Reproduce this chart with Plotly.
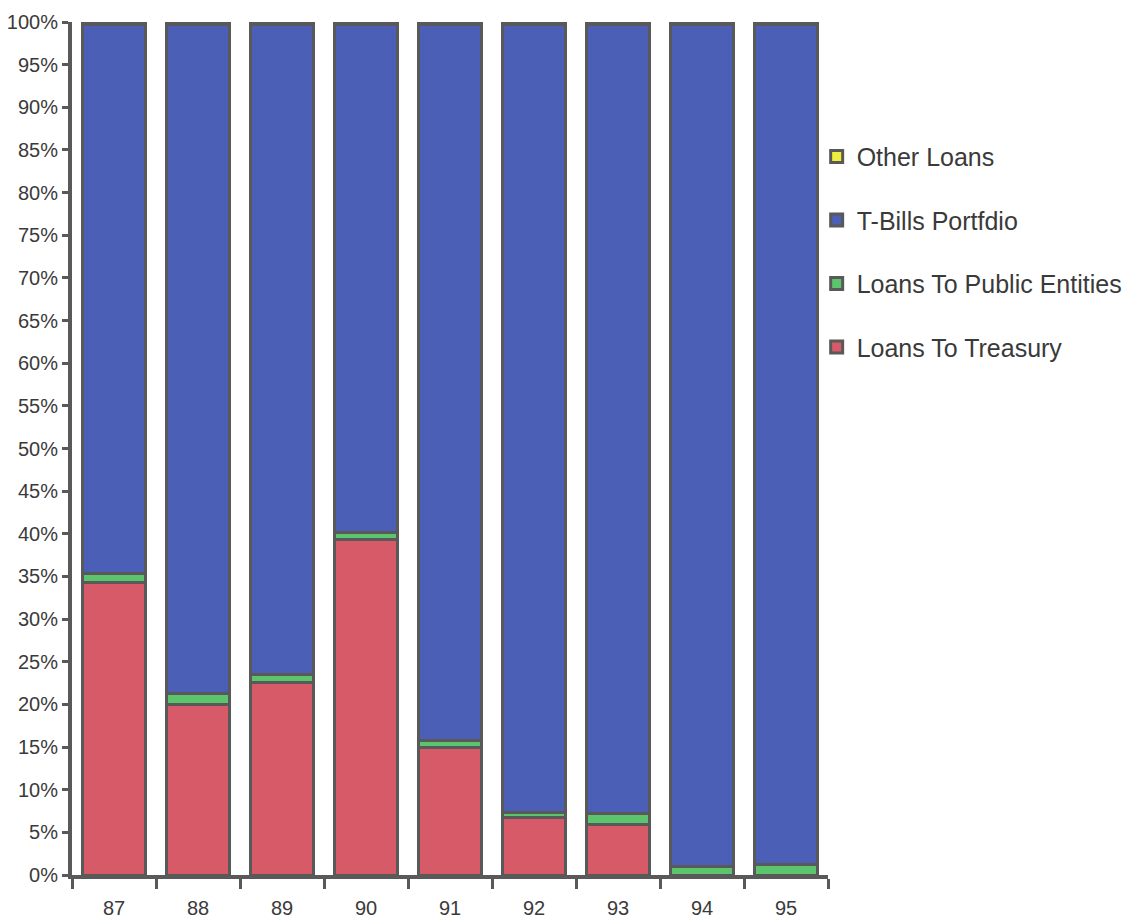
import plotly.graph_objects as go

years = ["87", "88", "89", "90", "91", "92", "93", "94", "95"]

loans_to_treasury = [34.3, 20.0, 22.6, 39.3, 15.0, 6.8, 5.9, 0.0, 0.0]
loans_to_public_entities = [1.0, 1.3, 0.9, 0.8, 0.8, 0.5, 1.3, 1.0, 1.2]
other_loans = [0.3, 0.3, 0.3, 0.3, 0.3, 0.3, 0.3, 0.3, 0.3]
t_bills_portfolio = [round(100 - a - b - c, 1) for a, b, c in
                     zip(loans_to_treasury, loans_to_public_entities, other_loans)]

y_ticks = list(range(0, 101, 5))
y_tick_labels = [f"{v}%" for v in y_ticks]

outline = "#595959"
# (name, values, fill colour, legend position from the top)
series = [
    ("Loans To Treasury", loans_to_treasury, "#d75a68", 4),
    ("Loans To Public Entities", loans_to_public_entities, "#5cc46c", 3),
    ("T-Bills Portfdio", t_bills_portfolio, "#4b5fb6", 2),
    ("Other Loans", other_loans, "#eeee3c", 1),
]

fig = go.Figure()
for i, (name, vals, color, rank) in enumerate(series):
    fig.add_trace(go.Bar(
        x=years, y=vals, name=name, legendgroup=f"g{i}", legendrank=rank,
        marker=dict(color=color, line=dict(color=outline, width=3)),
        width=0.74,
    ))

fig.update_layout(
    barmode="stack",
    width=1142, height=919,
    margin=dict(l=72, r=314, t=22, b=44, autoexpand=False),
    paper_bgcolor="white", plot_bgcolor="white",
    font=dict(family="Liberation Sans, Arial, sans-serif", color="#3a3a3a"),
    showlegend=True,
    legend=dict(
        x=0.985, y=0.869, xanchor="left", yanchor="top",
        traceorder="grouped", tracegroupgap=28,
        font=dict(size=25, color="#3a3a3a"),
        itemwidth=30, bgcolor="rgba(0,0,0,0)",
    ),
    xaxis=dict(
        type="category", range=[-0.5, 8.5], automargin=False,
        showline=True, linecolor=outline, linewidth=4,
        ticks="outside", tickson="boundaries", ticklen=10, tickwidth=3,
        tickcolor=outline, showgrid=False, ticklabelstandoff=12,
        tickfont=dict(size=20, color="#3a3a3a"),
    ),
    yaxis=dict(
        range=[0, 100], tickvals=y_ticks, ticktext=y_tick_labels,
        automargin=False,
        showline=True, linecolor=outline, linewidth=4,
        ticks="outside", ticklen=6, tickwidth=3, tickcolor=outline,
        showgrid=False, zeroline=False,
        tickfont=dict(size=20, color="#3a3a3a"),
    ),
)

fig.write_html("out.html")
